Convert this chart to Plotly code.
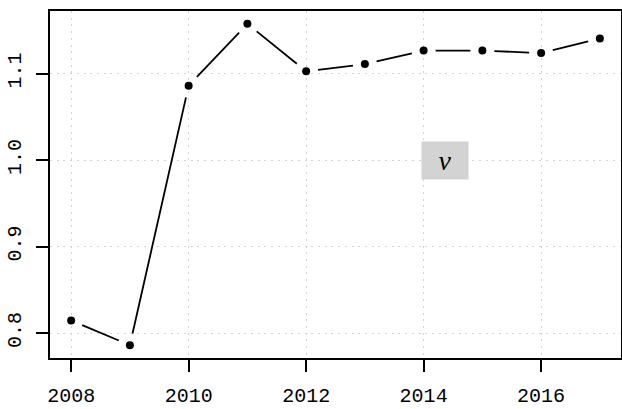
import numpy as np
import plotly.graph_objects as go

# Annual values of the estimated parameter nu
years = [2008, 2009, 2010, 2011, 2012, 2013, 2014, 2015, 2016, 2017]
nu_values = [0.8146, 0.7860, 1.0860, 1.1575, 1.1027, 1.1110, 1.1266, 1.1266, 1.1237, 1.1405]
x_ticks = [2008, 2010, 2012, 2014, 2016]
y_ticks = [0.8, 0.9, 1.0, 1.1]
y_tick_text = ["0.8", "0.9", "1.0", "1.1"]
legend_label = "ν"

W, H = 622, 409
margin = dict(l=50, r=1, t=11, b=51)
plot_w = W - margin["l"] - margin["r"]
plot_h = H - margin["t"] - margin["b"]

# axis limits padded by 4% on each side
def padded(vals):
    lo, hi = min(vals), max(vals)
    d = (hi - lo) * 0.04
    return [lo - d, hi + d]

xr = padded(years)
yr = padded(nu_values)
sx = plot_w / (xr[1] - xr[0])
sy = plot_h / (yr[1] - yr[0])

# connecting segments leave a gap around each point (points-and-lines style)
gap = 12.0
seg_x, seg_y = [], []
for i in range(len(years) - 1):
    x0, y0 = years[i], nu_values[i]
    x1, y1 = years[i + 1], nu_values[i + 1]
    dx, dy = (x1 - x0) * sx, (y1 - y0) * sy
    L = np.hypot(dx, dy)
    if L <= 2 * gap:
        continue
    f = gap / L
    seg_x += [x0 + (x1 - x0) * f, x1 - (x1 - x0) * f, None]
    seg_y += [y0 + (y1 - y0) * f, y1 - (y1 - y0) * f, None]

fig = go.Figure()
fig.add_trace(go.Scatter(x=seg_x, y=seg_y, mode="lines",
                         line=dict(color="black", width=1.8),
                         hoverinfo="skip", showlegend=False))
fig.add_trace(go.Scatter(x=years, y=nu_values, mode="markers",
                         marker=dict(color="black", size=8),
                         showlegend=False))

tick_font = dict(family="Liberation Mono", size=20, color="black")
grid_dash = "2px,4.7px"

fig.update_xaxes(range=xr, tickvals=x_ticks, ticktext=[str(t) for t in x_ticks],
                 showline=True, linecolor="black", linewidth=1.6, mirror=True,
                 ticks="outside", ticklen=12, tickwidth=1.6, tickcolor="black",
                 tickfont=tick_font, ticklabelstandoff=6, automargin=False,
                 showgrid=True, gridcolor="#d3d3d3", gridwidth=1, griddash=grid_dash,
                 zeroline=False)
fig.update_yaxes(range=yr, tickvals=y_ticks, ticktext=y_tick_text,
                 showline=True, linecolor="black", linewidth=1.6, mirror=True,
                 ticks="outside", ticklen=12, tickwidth=1.6, tickcolor="black",
                 tickfont=tick_font, tickangle=-90, ticklabelstandoff=7, automargin=False,
                 showgrid=True, gridcolor="#d3d3d3", gridwidth=1, griddash=grid_dash,
                 zeroline=False)

# legend box holding the parameter symbol
fig.add_annotation(x=2014.37, y=1.0, xref="x", yref="y", text=legend_label,
                   showarrow=False, bgcolor="#d3d3d3", width=44, height=35,
                   xanchor="center", yanchor="middle",
                   font=dict(family="Liberation Serif", size=28, color="black", style="italic"))

fig.update_layout(width=W, height=H, margin=margin,
                  plot_bgcolor="white", paper_bgcolor="white",
                  showlegend=False)

fig.write_html("out.html")
